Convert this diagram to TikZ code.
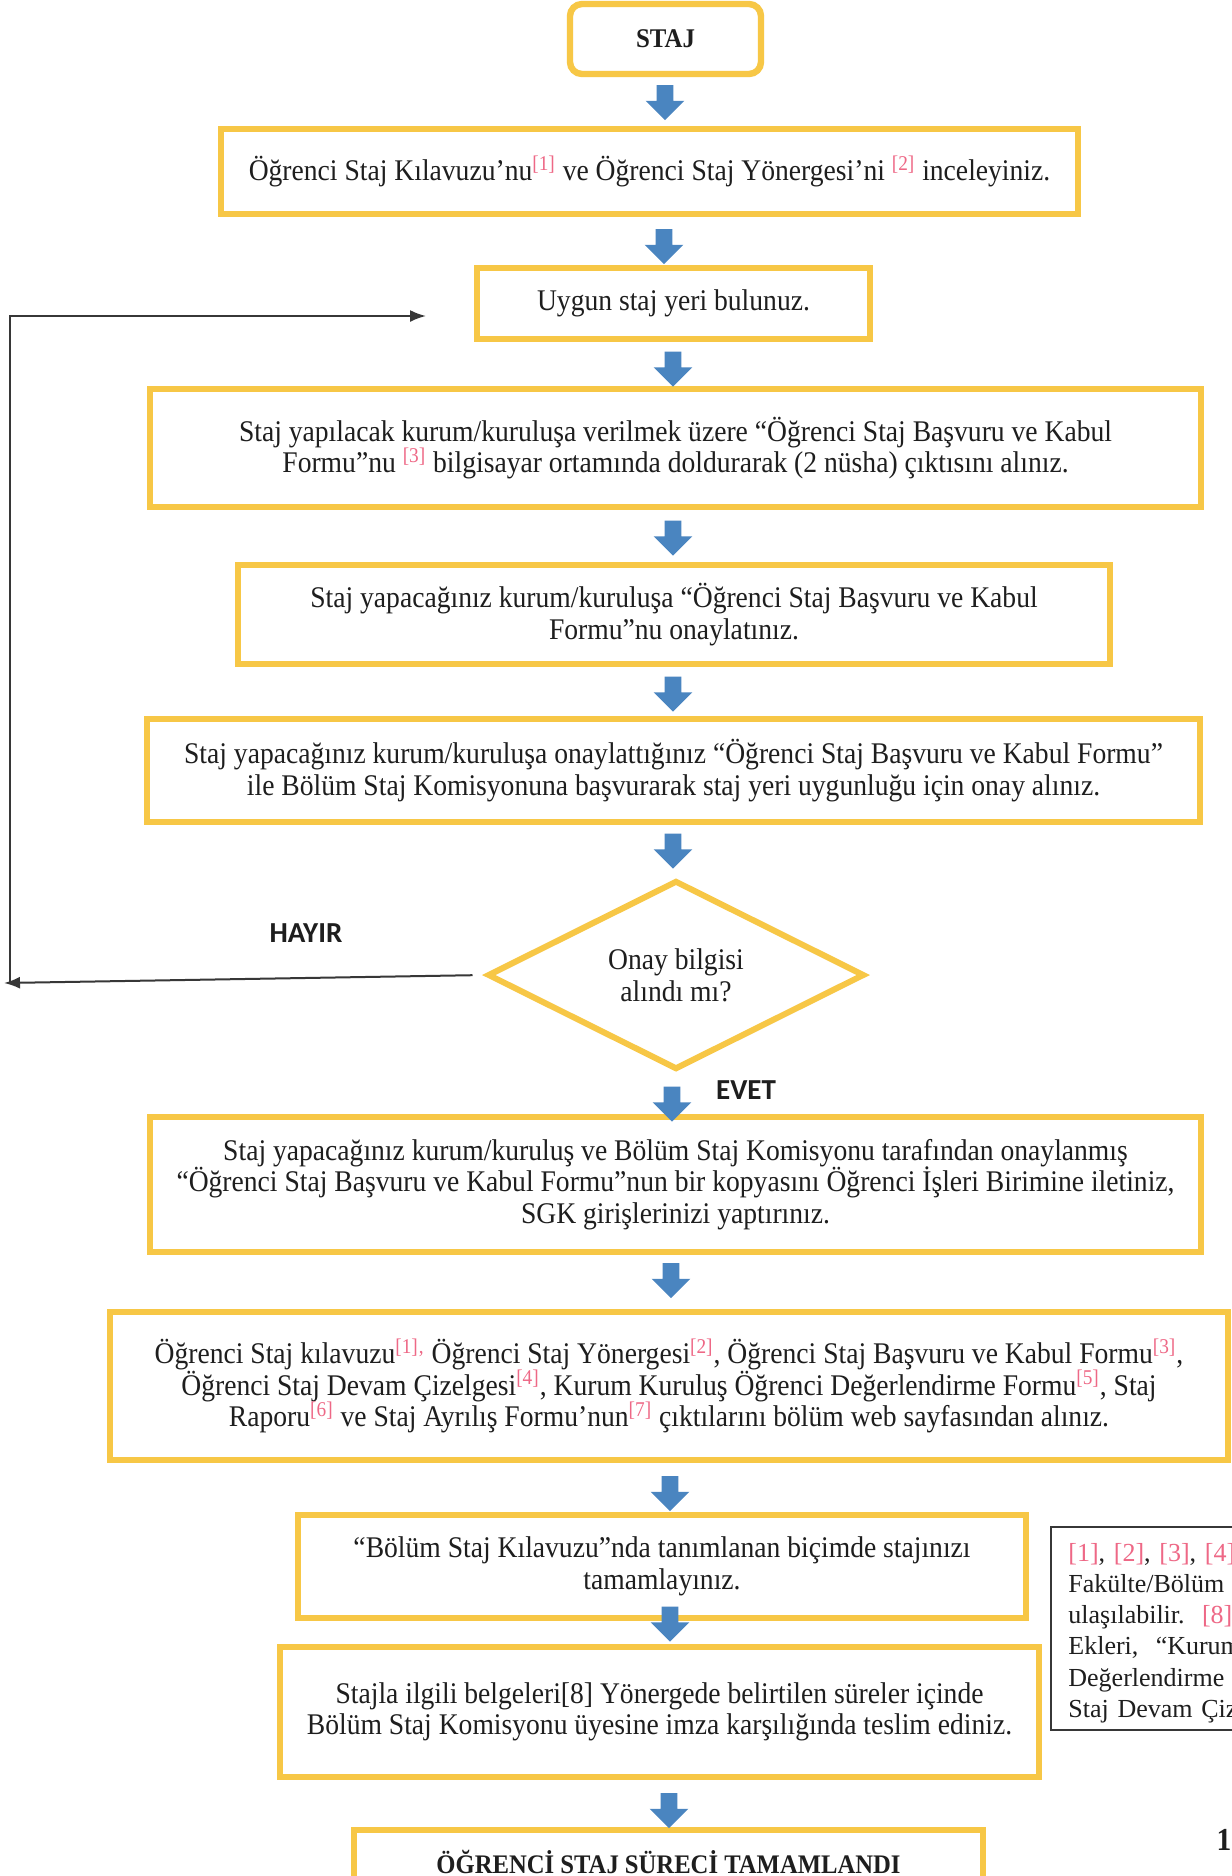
\documentclass[tikz,border=0pt]{standalone}
\usepackage{fontspec}
\setmainfont{Liberation Serif}[FakeStretch=0.92]
\newfontfamily\notefont{Liberation Serif}
\newfontfamily\labelfont{Carlito}
\usetikzlibrary{shapes.geometric,shapes.arrows,arrows.meta}
\definecolor{boxyellow}{RGB}{247,199,70}
\definecolor{arrowblue}{RGB}{74,133,192}
\definecolor{refpink}{RGB}{238,104,134}
\definecolor{linegray}{RGB}{55,55,55}
\definecolor{txt}{RGB}{30,30,30}
\newcommand{\refmark}[1]{\textsuperscript{\textcolor{refpink}{[#1]}}}
\newcommand{\pinkref}[1]{\textcolor{refpink}{[#1]}}
\begin{document}
\begin{tikzpicture}[x=0.5pt,y=-0.5pt,
  stepbox/.style={draw=boxyellow, line width=3.2pt, fill=white, align=center, inner sep=0pt, text=txt, font=\fontsize{15}{15.8}\selectfont},
  darrow/.style={single arrow, fill=arrowblue, draw=none, rotate=-90, minimum height=17.5pt, inner xsep=0pt, inner ysep=4pt, single arrow head extend=5.5pt},
  fb/.style={draw=linegray, line width=1pt, -{Latex[length=8pt,width=6pt]}},
  lbl/.style={font=\labelfont\bfseries\fontsize{14.5}{16}\selectfont, text=txt}
]
\useasboundingbox (0,0) rectangle (1232,1876);
\fill[white] (0,0) rectangle (1232,1876);
\clip (0,0) rectangle (1232,1876);

\node[stepbox, rounded corners=6pt, minimum width=95.5pt, minimum height=35pt, font=\bfseries\fontsize{13.5}{16}\selectfont] (staj) at (665.5,39) {STAJ};

\node[stepbox, minimum width=428.5pt, minimum height=42.5pt] (b2) at (649.5,171.5)
 {Öğrenci Staj Kılavuzu’nu\refmark{1} ve Öğrenci Staj Yönergesi’ni \refmark{2} inceleyiniz.};

\node[stepbox, minimum width=196.5pt, minimum height=35.5pt] (b3) at (673.5,303.5)
 {Uygun staj yeri bulunuz.};

\node[stepbox, minimum width=525.5pt, minimum height=59pt] (b4) at (675.5,448)
 {Staj yapılacak kurum/kuruluşa verilmek üzere “Öğrenci Staj Başvuru ve Kabul\\
  Formu”nu \refmark{3} bilgisayar ortamında doldurarak (2 nüsha) çıktısını alınız.};

\node[stepbox, minimum width=436pt, minimum height=49.5pt] (b5) at (674,614.5)
 {Staj yapacağınız kurum/kuruluşa “Öğrenci Staj Başvuru ve Kabul\\
  Formu”nu onaylatınız.};

\node[stepbox, minimum width=526.5pt, minimum height=51.5pt] (b6) at (673.5,770.5)
 {Staj yapacağınız kurum/kuruluşa onaylattığınız “Öğrenci Staj Başvuru ve Kabul Formu”\\
  ile Bölüm Staj Komisyonuna başvurarak staj yeri uygunluğu için onay alınız.};

\node[diamond, draw=boxyellow, line width=3pt, fill=white, align=center, inner sep=0pt, text=txt,
      font=\fontsize{15}{15.8}\selectfont, minimum width=188.5pt, minimum height=94.5pt] (dia) at (676,975)
 {Onay bilgisi\\ alındı mı?};

\node[stepbox, minimum width=525.5pt, minimum height=67.5pt] (b7) at (675.5,1184.5)
 {Staj yapacağınız kurum/kuruluş ve Bölüm Staj Komisyonu tarafından onaylanmış\\
  “Öğrenci Staj Başvuru ve Kabul Formu”nun bir kopyasını Öğrenci İşleri Birimine iletiniz,\\
  SGK girişlerinizi yaptırınız.};

\node[stepbox, minimum width=559pt, minimum height=74pt] (b8) at (669,1386)
 {Öğrenci Staj kılavuzu\refmark{1}\textsuperscript{\textcolor{refpink}{,}} Öğrenci Staj Yönergesi\refmark{2}, Öğrenci Staj Başvuru ve Kabul Formu\refmark{3},\\
  Öğrenci Staj Devam Çizelgesi\refmark{4}, Kurum Kuruluş Öğrenci Değerlendirme Formu\refmark{5}, Staj\\
  Raporu\refmark{6} ve Staj Ayrılış Formu’nun\refmark{7} çıktılarını bölüm web sayfasından alınız.};

\node[stepbox, minimum width=364pt, minimum height=51.5pt] (b9) at (662,1566.5)
 {“Bölüm Staj Kılavuzu”nda tanımlanan biçimde stajınızı\\ tamamlayınız.};

\node[stepbox, minimum width=379.5pt, minimum height=65pt] (b10) at (659.5,1712)
 {Stajla ilgili belgeleri[8] Yönergede belirtilen süreler içinde\\
  Bölüm Staj Komisyonu üyesine imza karşılığında teslim ediniz.};

\node[stepbox, minimum width=314.5pt, minimum height=32pt, font=\bfseries\fontsize{13.4}{16}\selectfont] (b11) at (668.5,1862)
 {ÖĞRENCİ STAJ SÜRECİ TAMAMLANDI};

\node[draw=linegray, line width=1pt, fill=white, anchor=north west, minimum height=101.5pt,
      minimum width=120pt] (note) at (1050,1526) {};
\node[anchor=west, text width=190pt, inner sep=0pt, align=left, text=txt,
      font=\notefont\fontsize{13}{15.6}\selectfont] (notetext) at (1068,1633)
 {\pinkref{1}, \pinkref{2}, \pinkref{3}, \pinkref{4}\\
  Fakülte/Bölüm\\
  ulaşılabilir.~~\pinkref{8}\\
  Ekleri,~~“Kurum\\
  Değerlendirme\\
  Staj Devam Çizelgesi};

% block arrows
\node[darrow] (a1) at (665,98.5) {};
\node[darrow] (a2) at (664,242.5) {};
\node[darrow] (a3) at (673,365) {};
\node[darrow] (a4) at (673,534) {};
\node[darrow] (a5) at (673,690) {};
\node[darrow] (a6) at (673,847) {};
\node[darrow] (a7) at (672,1100) {};
\node[darrow] (a8) at (671,1276.5) {};
\node[darrow] (a9) at (670,1489.5) {};
\node[darrow] (a10) at (670,1620) {};
\node[darrow] (a11) at (669,1806.5) {};

% feedback loop
\coordinate (c1) at (4,983);
\coordinate (c0) at (10,983);
\coordinate (c3) at (426,316);
\draw[fb, shorten <=6pt] (dia.west) -- (c1);
\draw[fb] (c0) |- (c3);

\node[lbl] (hayir) at (306,933) {HAYIR};
\node[lbl] (evet) at (746,1090) {EVET};

\node[text=txt, font=\bfseries\fontsize{16}{18}\selectfont] (pg) at (1224,1840) {1};
\end{tikzpicture}
\end{document}
